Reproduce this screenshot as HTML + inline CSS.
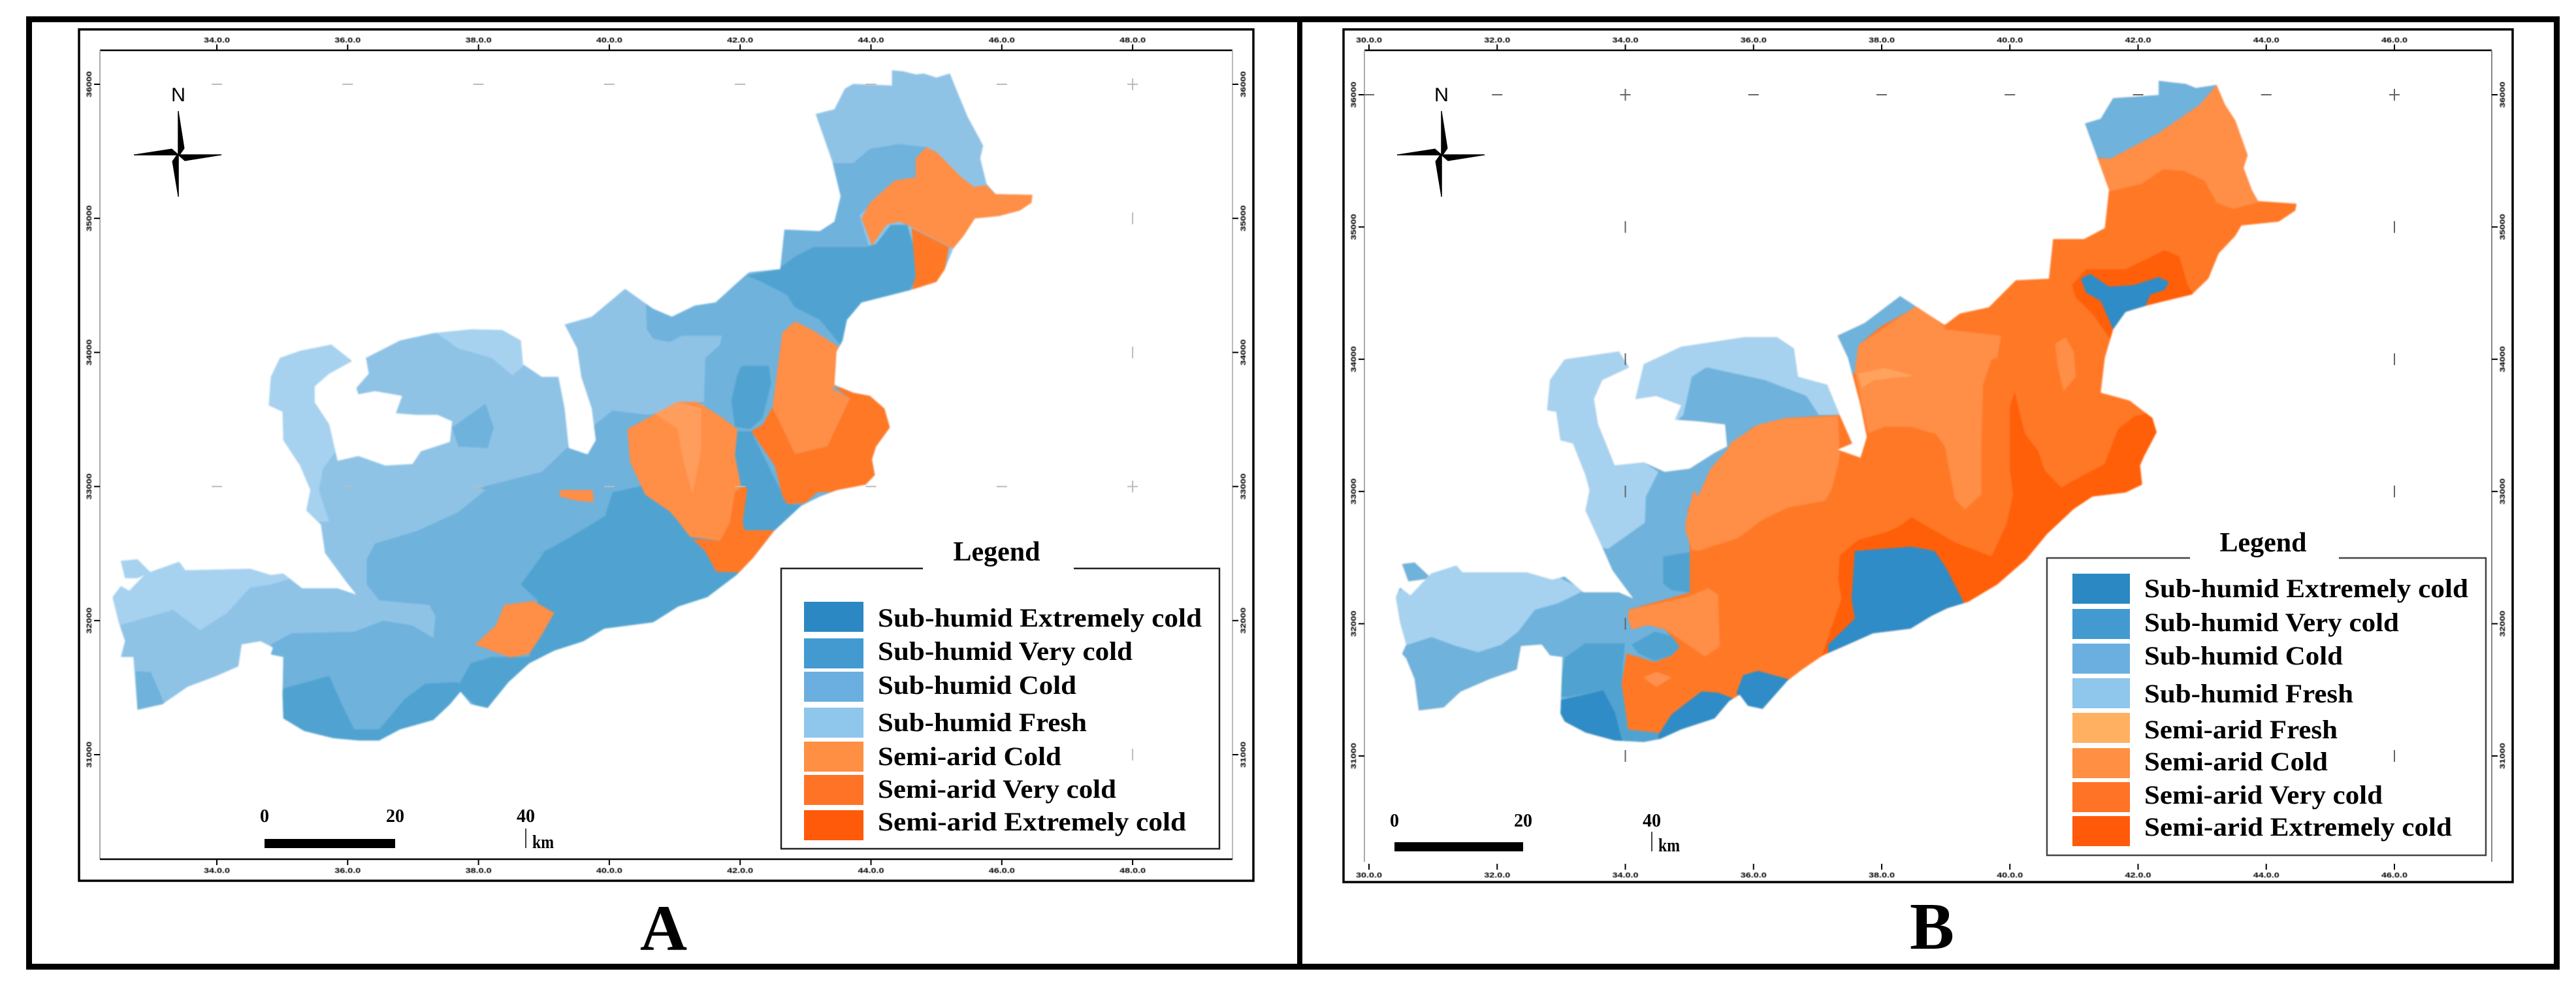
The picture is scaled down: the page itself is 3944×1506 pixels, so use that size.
<!DOCTYPE html>
<html lang="en">
<head>
<meta charset="utf-8">
<title>Climate classification maps A and B</title>
<style>
html,body{margin:0;padding:0;background:#fff}
svg{display:block}
text{font-family:"Liberation Serif",serif;fill:#000}
.tick{font-family:"Liberation Sans",sans-serif;font-weight:bold;font-size:11px;filter:blur(.6px)}
</style>
</head>
<body>
<svg id="fig" xmlns="http://www.w3.org/2000/svg" width="3944" height="1506" viewBox="0 0 3944 1506">
<rect width="3944" height="1506" fill="#fff"/>
<rect x="44.5" y="29.5" width="3870" height="1450" fill="none" stroke="#000" stroke-width="9"/>
<rect x="1986" y="29" width="8" height="1450" fill="#000"/>
<defs id="defs"></defs>
</svg>
<script>
// Tick labels and legend entries
const xTickLabelsA = ['34.0.0','36.0.0','38.0.0','40.0.0','42.0.0','44.0.0','46.0.0','48.0.0'];
const xTickLabelsB = ['30.0.0','32.0.0','34.0.0','36.0.0','38.0.0','40.0.0','42.0.0','44.0.0','46.0.0'];
const yTickLabelsA = ['36000','35000','34000','33000','32000','31000'];
const yTickLabelsB = ['36000','35000','34000','33000','32000','31000'];
const legendLabelsA = ['Sub-humid Extremely cold','Sub-humid Very cold','Sub-humid Cold','Sub-humid Fresh','Semi-arid Cold','Semi-arid Very cold','Semi-arid Extremely cold'];
const legendColorsA = ['#2b88c2','#429ad0','#6bafe0','#8fc6ec','#ff8f42','#ff7326','#ff5a0a'];
const legendLabelsB = ['Sub-humid Extremely cold','Sub-humid Very cold','Sub-humid Cold','Sub-humid Fresh','Semi-arid Fresh','Semi-arid Cold','Semi-arid Very cold','Semi-arid Extremely cold'];
const legendColorsB = ['#2b88c2','#429ad0','#6bafe0','#8fc6ec','#ffb060','#ff8f42','#ff7326','#ff5a0a'];
const scaleLabels = ['0','20','40'];

// Crop frames used to read the outlines
const frames = {
  a:[0,0,.638,.4847], b:[1000,0,.638,.4847], c:[0,750,.638,.482], d:[1000,750,.638,.482],
  e:[2000,0,.638,.4847], f:[2950,0,.634,.4847], g:[2000,750,.638,.482], h:[2950,750,.634,.482],
  i:[2600,550,.5102,.3333], j:[2100,800,.5102,.3333], k:[800,500,.3827,.3333]
};
function pts(s){
  let fr = frames.a, out = [];
  s.trim().split(/\s+/).forEach(tok => {
    if (frames[tok]) { fr = frames[tok]; return; }
    const [zx,zy] = tok.split(',').map(Number);
    out.push((fr[0]+zx*fr[2]).toFixed(1)+','+(fr[1]+zy*fr[3]).toFixed(1));
  });
  return out.join(' ');
}

const NS = 'http://www.w3.org/2000/svg';
const svg = document.getElementById('fig');
const defs = document.getElementById('defs');
function mk(tag, attrs, parent, txt){
  const el = document.createElementNS(NS, tag);
  for (const k in attrs) el.setAttribute(k, attrs[k]);
  if (txt !== undefined) el.textContent = txt;
  (parent||svg).appendChild(el);
  return el;
}

const C = {f:'#a6d2f0',c1:'#8fc3e6',c2:'#6fb2dc',c3:'#50a3d0',c4:'#2f8cc6',of:'#ffa35c',o1:'#ff8e46',o2:'#ff7826',o3:'#ff5f08'};

const outlineA = [
 'b 573,222 600,225 630,235 650,232 680,245 712,232 730,290 755,370 780,430 792,460 785,500 800,580 822,613 910,615 908,640 880,665 830,682 772,690 745,745 720,785 700,850 680,890 620,915 560,935 500,955 465,1010 455,1075 440,1110 435,1215 480,1240 520,1250 555,1290 568,1350 535,1410 525,1450 532,1500 510,1530 440,1548 400,1568 d 355,50 290,130 240,215 200,270 130,340 60,370 0,420 c 1450,440 1400,480 1330,510 1270,550 1220,610 1170,692 1130,680 1105,640 1080,680 1040,730 960,760 910,795 860,795 800,788 730,765 680,725 678,650 680,530 650,522 655,500 625,480 580,490 572,560 520,590 450,625 390,680 330,698 320,530 290,530 300,480 285,420 270,340 290,305 310,320 350,265 430,228 445,255 600,250 650,270 680,265 725,312 810,312 855,332 830,290 780,200 770,110 735,65 745,0 a 720,1470 680,1390 678,1300 645,1280 650,1190 672,1130 720,1108 795,1088 845,1140 790,1180 755,1220 755,1270 790,1340 810,1455 860,1440 925,1470 990,1465 1010,1425 1080,1395 1085,1330 1050,1310 1000,1310 950,1305 965,1250 900,1235 860,1245 855,1225 885,1180 878,1130 960,1075 1040,1052 1130,1040 1205,1042 1250,1075 1255,1150 1300,1190 1340,1190 1355,1290 1365,1415 1410,1435 1430,1390 1420,1290 1395,1190 1385,1100 1355,1025 1420,1000 1500,912 b 0,975 45,1000 100,965 150,955 200,895 230,860 305,850 315,725 400,730 435,700 450,620 430,510 390,360 435,345 460,280 480,265 573,270',
 'c 290,225 330,220 360,260 330,280 300,280'
];
const regionsA = [
 ['west-arc-fresh',C.f,'a 600,1250 640,1100 800,1060 860,1140 790,1200 790,1340 808,1420 775,1480 765,1547 c 765,0 790,100 700,100 a 650,1547'],
 ['crescent-fresh',C.f,'a 1040,1045 1100,1100 1180,1130 1230,1185 1270,1140 1260,1030'],
 ['west-tip-fresh',C.f,'c 240,434 285,430 415,380 480,445 545,390 600,310 650,300 700,280 650,230 400,200 250,210'],
 ['crescent-cold',C.c2,'a 1165,1275 1185,1350 1170,1415 1100,1410 1085,1350'],
 ['central-cold',C.c2,'a 1550,950 1552,1040 1568,1070 b 40,1080 70,1060 165,1060 160,1090 125,1130 122,1270 90,1268 k 730,360 500,405 360,385 300,440 a 1360,1415 1300,1490 1150,1540 c 1165,0 1100,70 1000,130 900,170 880,220 880,300 910,350 1030,365 1045,400 1040,470 990,430 920,415 850,450 700,455 650,490 650,525 640,900 c 1568,900 d 600,600 600,0 b 600,1500 520,900 300,830 225,865 100,950'],
 ['sw-tip-cold',C.c2,'c 325,575 362,578 395,680 330,705'],
 ['ne-cold',C.c2,'b 430,515 480,515 520,470 590,455 660,465 630,500 630,560 580,570 495,680 520,790 420,790 370,810 305,850 300,700 400,720 450,620'],
 ['ne-very-cold',C.c3,'b 225,870 300,850 340,810 385,780 510,780 535,770 570,710 610,710 630,800 630,880 615,925 500,960 465,1010 450,1090 400,1010 340,970 320,930 260,890'],
 ['central-patch-very-cold',C.c3,'k 875,180 985,180 995,260 960,420 910,470 850,460 835,340 860,220'],
 ['south-very-cold',C.c3,'c 1250,300 1310,190 k 60,1050 200,960 330,870 360,760 465,735 860,480 915,480 1060,815 1300,820 1500,820 d 600,100 300,400 c 1568,600 1170,720 1105,640 1100,620 1130,550 1180,530 1270,530 1290,350'],
 ['sw-very-cold',C.c3,'c 680,630 790,590 820,680 850,760 910,760 970,665 1020,615 1100,610 1105,640 1080,700 1040,750 960,800 800,820 700,800 660,725'],
 ['ne-semi-cold',C.o1,'b 630,500 655,465 680,480 740,560 770,590 800,585 822,613 920,610 915,645 880,670 830,690 772,695 745,745 720,785 610,710 590,700 560,710 525,775 500,690 520,640 580,570 630,560'],
 ['ne-semi-very-cold',C.o2,'b 620,720 710,780 700,850 680,895 620,920 630,870'],
 ['east-semi-very-cold',C.o2,'k 1000,370 1090,585 1220,550 1310,330 1250,280 1340,280 1440,300 1510,460 1440,600 1450,680 1390,760 1180,760 1130,810 1060,815 1040,780 1010,640 915,480 960,450'],
 ['east-semi-cold',C.o1,'b 310,1050 340,1015 380,1040 445,1095 440,1215 k 1240,285 1310,330 1220,550 1090,585 1000,370'],
 ['central-semi-cold',C.o1,'k 420,470 500,420 620,345 700,345 790,410 860,470 850,590 875,740 850,760 830,900 790,985 670,965 620,890 590,850 490,770 430,620'],
 ['central-semi-very-cold',C.o2,'k 880,735 900,740 880,900 890,935 1020,935 900,1130 775,1125 730,1030 680,975 790,985 830,900 850,760'],
 ['central-semi-light','#ff9d5c','k 530,400 620,345 715,375 715,570 680,770 640,600 620,470'],
 ['small-semi-cold-north',C.o1,'k 150,750 280,750 285,805 220,800 150,780'],
 ['small-semi-cold-south',C.o1,'c 1210,365 1280,352 1330,390 1300,460 1270,520 1225,532 1140,490 1190,430']
];

const outlineB = [
 'f 560,255 590,260 625,265 650,278 700,268 720,330 745,380 775,490 765,530 785,600 800,635 893,643 890,665 850,700 760,712 745,745 705,800 680,880 640,930 530,965 480,985 450,1040 430,1130 420,1240 490,1265 545,1320 555,1365 525,1440 515,1470 520,1530 480,1555 400,1568 h 355,60 290,140 240,220 170,300 100,355 50,375 g 1500,400 1450,440 1360,455 1300,490 1240,525 1190,570 1155,605 1095,695 1060,685 1040,650 1015,670 980,725 900,760 850,790 810,800 740,795 670,770 620,735 610,710 615,530 585,525 565,490 515,495 505,570 440,600 370,640 330,690 270,700 260,600 240,535 230,520 240,490 225,420 215,340 225,310 250,335 300,265 360,240 375,262 530,262 590,285 620,275 665,325 750,325 785,345 735,255 715,195 670,65 680,0 e 670,1500 640,1400 610,1390 600,1300 578,1295 585,1200 620,1135 750,1110 775,1160 710,1200 690,1260 700,1340 740,1470 810,1460 860,1490 920,1480 980,1430 1010,1410 1005,1340 940,1330 885,1325 900,1280 840,1250 790,1260 810,1150 900,1095 1050,1065 1130,1065 1170,1100 1180,1190 1250,1215 1280,1310 1310,1400 1275,1420 1330,1445 1345,1380 1330,1280 1300,1130 1275,1060 1340,1020 1425,935 1460,965 1530,1025 f 45,1025 80,990 150,970 215,885 295,880 305,755 380,755 430,720 440,600 410,490 382,390 420,375 450,310 510,305 560,300',
 'g 230,235 260,230 300,280 245,290'
];
const regionsB = [
 ['west-cold',C.c2,'e 500,1000 1270,1000 1285,1310 1150,1320 1070,1350 1010,1420 970,1480 940,1568 g 915,60 j 955,130 955,320 770,400 770,440 780,490 830,470 880,490 925,570 900,610 850,640 765,600 750,740 770,950 860,965 860,1100 0,1100 g 0,0'],
 ['west-arc-fresh',C.f,'e 540,1300 560,1100 750,1090 790,1160 740,1200 700,1340 740,1470 810,1460 845,1490 815,1568 j 820,0 710,120 640,100 g 600,0 e 600,1568'],
 ['crescent-fresh',C.f,'e 790,1280 790,1130 900,1070 1150,1040 1280,1200 1285,1310 1230,1310 1200,1250 1100,1200 960,1160 925,1190 905,1310 880,1340'],
 ['west-tip-fresh',C.f,'j 50,350 95,300 120,320 190,215 260,185 275,225 480,220 560,250 640,310 560,370 490,400 440,500 390,560 320,595 250,565 180,525 100,565 70,480'],
 ['sw-very-cold',C.c3,'j 560,800 580,620 640,555 760,555 755,640 750,740 695,770 590,800'],
 ['sw-strip-very-cold',C.c3,'j 695,770 750,740 770,950 860,965 860,1020 750,1020 730,870'],
 ['mid-very-cold',C.c3,'j 875,155 955,135 955,320 900,310 875,280'],
 ['bump-very-cold',C.c3,'j 780,560 850,500 900,520 925,570 900,610 850,635 800,600'],
 ['north-tip-cold',C.c2,'e 1270,1060 1340,1010 1425,925 1470,965 1380,1030 1325,1090 1320,1180 1290,1180'],
 ['north-cap-cold',C.c2,'f 370,395 420,365 450,300 510,295 550,240 710,260 660,330 560,420 445,505 405,495'],
 ['north-semi-cold',C.o1,'f 410,500 445,500 560,420 660,330 700,268 720,330 745,380 790,490 775,530 795,600 810,635 740,660 700,640 670,570 620,540 570,535 520,580 440,605'],
 ['central-semi-cold',C.o1,'e 1325,1090 1465,965 1530,1030 f 45,1040 180,1060 170,1130 i 880,0 855,120 850,400 850,620 800,690 770,640 740,400 715,345 640,310 560,310 510,340 490,200 470,50'],
 ['west-semi-cold',C.o1,'e 940,1568 970,1480 1010,1420 i 100,380 180,300 260,270 420,260 425,440 420,480 400,600 380,650 270,680 190,740 120,820 0,880 g 925,190 910,130 910,100 930,0'],
 ['small-semi-cold',C.o1,'j 770,400 950,340 1010,300 1040,330 1045,570 1000,615 930,540 880,490 830,470 780,490 770,440'],
 ['small-semi-cold-south','#ff9150','j 815,710 855,685 900,710 855,755'],
 ['semi-fresh-patch',C.of,'i 480,65 560,40 650,75 530,95 490,130'],
 ['east-semi-cold-sliver',C.o1,'f 310,1085 335,1065 355,1110 360,1190 330,1235 315,1150'],
 ['ne-semi-extreme',C.o3,'f 350,900 385,850 480,850 575,790 610,810 630,900 650,940 530,985 450,1085 400,990 360,940'],
 ['east-semi-extreme',C.o3,'i 950,150 935,220 935,500 945,620 925,760 880,905 770,840 640,725 600,770 570,790 480,830 425,900 420,1010 430,1100 385,1300 370,1365 350,1400 600,1600 1600,1000 1600,200 1370,200 1340,250 1310,260 1260,320 1240,400 1220,480 1110,570 1090,590 1040,510 1020,420 980,340'],
 ['ne-extreme-cold',C.c4,'f 372,880 395,865 440,905 500,900 560,875 585,890 575,915 540,930 525,975 480,995 450,1040 420,950 385,925'],
 ['south-extreme-cold',C.c4,'i 470,880 640,860 710,880 745,960 795,1110 800,1140 650,1260 530,1270 480,1330 390,1370 390,1310 470,1190 460,1100'],
 ['sw-extreme-cold',C.c4,'j 550,820 695,770 730,870 755,1020 640,1000 550,900'],
 ['south-mid-extreme-cold',C.c4,'j 860,975 900,880 990,775 1040,780 1090,810 1050,890 980,950 860,1020'],
 ['south-small-extreme-cold',C.c4,'j 1095,780 1115,700 1160,680 1255,720 1180,880 1120,860']
];

function drawMap(id, outline, regions){
  const clip = mk('clipPath',{id:'clip-'+id},defs);
  outline.forEach(o => mk('polygon',{points:pts(o)},clip));
  const wrap = mk('g',{style:'filter:blur(1px)'});
  
  
  const g = mk('g',{'clip-path':'url(#clip-'+id+')'},wrap);
  
  
  const base = mk('rect',{x:0,y:0,width:3944,height:1506,fill:id==='a'?C.c1:C.o2},g);
  
  
  regions.forEach(r => {
    const p = mk('polygon',{points:pts(r[2]),fill:r[1]},g);
    
    
  });
}

function drawAxes(cfg){
  const xPos = i => cfg.x0 + i*cfg.dx;
  const yPos = i => cfg.y0 + i*cfg.dy;
  const frame = mk('rect',{x:cfg.fx,y:cfg.fy,width:cfg.fw,height:cfg.fh,fill:'none',stroke:'#000','stroke-width':3.5});
  
  
  [[cfg.nl,77,cfg.nr,77,'#000',2.5],[cfg.nl,77,cfg.nl,cfg.nb,'#aaa',2],[cfg.nr,77,cfg.nr,cfg.nb,cfg.id==='a'?'#bbb':'#888',2]].forEach(l=>{
    const ln = mk('line',{x1:l[0],y1:l[1],x2:l[2],y2:l[3],stroke:l[4],'stroke-width':l[5]});
    
    
  });
  if (cfg.id==='a'){
    const ln = mk('line',{x1:cfg.nl,y1:cfg.nb,x2:cfg.nr,y2:cfg.nb,stroke:'#000','stroke-width':2.5});
    
    
  }
  cfg.xl.forEach((lab,i)=>{
    const x = xPos(i);
    const t1 = mk('line',{x1:x,y1:68,x2:x,y2:77,stroke:'#000','stroke-width':2});
    
    
    const t2 = mk('line',{x1:x,y1:cfg.tb0,x2:x,y2:cfg.tb0+9,stroke:'#000','stroke-width':2});
    
    
    const a = mk('text',{x:x,y:65,'text-anchor':'middle',class:'tick',textLength:40,lengthAdjust:'spacingAndGlyphs'},svg,lab);
    
    
    const b = mk('text',{x:x,y:cfg.lb,'text-anchor':'middle',class:'tick',textLength:40,lengthAdjust:'spacingAndGlyphs'},svg,lab);
    
    
  });
  cfg.yl.forEach((lab,i)=>{
    const y = yPos(i);
    const t1 = mk('line',{x1:cfg.nl-9,y1:y,x2:cfg.nl,y2:y,stroke:'#000','stroke-width':2});
    
    
    const t2 = mk('line',{x1:cfg.nr,y1:y,x2:cfg.nr+9,y2:y,stroke:'#000','stroke-width':2});
    
    
    const a = mk('text',{transform:'translate('+(cfg.nl-13)+','+y+') rotate(-90)','text-anchor':'middle',class:'tick',textLength:40,lengthAdjust:'spacingAndGlyphs'},svg,lab);
    
    
    const b = mk('text',{transform:'translate('+(cfg.nr+20)+','+y+') rotate(-90)','text-anchor':'middle',class:'tick',textLength:40,lengthAdjust:'spacingAndGlyphs'},svg,lab);
    
    
  });
  // graticule marks
  cfg.xl.forEach((_,i)=>{
    const x = xPos(i), last = i===cfg.xl.length-1;
    cfg.dashRows.forEach(r=>{
      const y = yPos(r);
      const d = mk('line',{x1:x-8,y1:y,x2:x+8,y2:y,stroke:cfg.grid,'stroke-width':2});
      
      
    });
    if (last || i===cfg.crossCol){
      cfg.yl.forEach((_,r)=>{
        if (last && r===4) return;
        const y = yPos(r);
        const v = mk('line',{x1:x,y1:y-9,x2:x,y2:y+9,stroke:cfg.grid,'stroke-width':2});
        
        
      });
    }
  });
}

function drawCompass(cx,cy,id){
  const g = mk('g',{transform:'translate('+cx+','+cy+')'});
  
  
  const n = mk('text',{x:0,y:-82,'text-anchor':'middle','font-size':30,textLength:22,lengthAdjust:'spacingAndGlyphs',style:'font-family:"Liberation Sans",sans-serif'},g,'N');
  
  
  ['0,-67 9,-10 2,0 0,0','66,0 10,9 2,2 0,0','0,64 -9,10 -2,0 0,0','-68,0 -10,-9 -2,-2 0,0'].forEach(p=>{
    const a = mk('polygon',{points:p,fill:'#000',stroke:'#000','stroke-width':1},g);
    
    
  });
  [[0,-67,0,0],[0,0,66,0],[0,0,0,64],[-68,0,0,0]].forEach(l=>{
    const a = mk('line',{x1:l[0],y1:l[1],x2:l[2],y2:l[3],stroke:'#000','stroke-width':1.5},g);
    
    
  });
}

function drawScale(x0,x1,yb,hb,yt,id){
  const bar = mk('rect',{x:x0,y:yb,width:x1-x0,height:hb,fill:'#000'});
  
  
  const step = x1-x0;
  scaleLabels.forEach((l,i)=>{
    const t = mk('text',{x:x0+i*step,y:yt,'text-anchor':'middle','font-size':28,'font-weight':'bold'},svg,l);
    
    
  });
  const kx = x0+2*step;
  const ln = mk('line',{x1:kx,y1:yb-16,x2:kx,y2:yb+hb,stroke:'#444','stroke-width':2});
  
  
  const k = mk('text',{x:kx+10,y:yb+hb,'font-size':28,'font-weight':'bold',textLength:33,lengthAdjust:'spacingAndGlyphs'},svg,'km');
  
  
}

function drawLegend(c){
  const box = mk('path',{d:'M'+c.gap0+' '+c.y0+'H'+c.x0+'V'+c.y1+'H'+c.x1+'V'+c.y0+'H'+c.gap1,fill:'none',stroke:c.stroke,'stroke-width':2.5});
  
  
  const t = mk('text',{x:c.tx,y:c.ty,'text-anchor':'middle','font-size':42,'font-weight':'bold'},svg,'Legend');
  
  
  c.labels.forEach((l,i)=>{
    const s = mk('rect',{x:c.sx,y:c.sy[i],width:c.sw,height:c.sh,fill:c.colors[i]});
    
    
    const x = mk('text',{x:c.lx,y:c.base[i],'font-size':40,'font-weight':'bold',textLength:c.widths[i],lengthAdjust:'spacingAndGlyphs'},svg,l);
    
    
  });
}

drawMap('a',outlineA,regionsA);
drawMap('b',outlineB,regionsB);

drawAxes({id:'a',x0:332,dx:200.3,y0:129,dy:205.2,xl:xTickLabelsA,yl:yTickLabelsA,fx:121,fy:45,fw:1798,fh:1303,nl:153,nr:1887,nb:1315,tb0:1315,lb:1336,grid:'#bbb',crossCol:-1,dashRows:[0,3]});
drawAxes({id:'b',x0:2096,dx:196.25,y0:145,dy:202.4,xl:xTickLabelsB,yl:yTickLabelsB,fx:2057,fy:45,fw:1790,fh:1305,nl:2089,nr:3815,nb:1319,tb0:1322,lb:1343,grid:'#666',crossCol:2,dashRows:[0]});

drawCompass(273,237,'a');
drawCompass(2207,237,'b');
drawScale(405,605,1284,14,1258,'a');
drawScale(2135,2332,1289,14,1265,'b');

drawLegend({x0:1196,x1:1867,y0:870,y1:1299,gap0:1413,gap1:1644,stroke:'#222',tx:1526,ty:858,sx:1231,sw:91,sh:46,
  sy:[921,977,1028,1083,1135,1186,1240],lx:1344,base:[959,1010,1062,1119,1171,1221,1271],
  widths:[496,390,304,320,281,365,472],labels:legendLabelsA,colors:legendColorsA});
drawLegend({x0:3134,x1:3806,y0:854,y1:1309,gap0:3353,gap1:3581,stroke:'#444',tx:3465,ty:844,sx:3173,sw:88,sh:46,
  sy:[878,932,985,1038,1091,1145,1197,1249],lx:3283,base:[914,966,1017,1075,1130,1179,1230,1279],
  widths:[496,390,304,320,296,281,365,471],labels:legendLabelsB,colors:legendColorsB});

const pa = mk('text',{x:1016,y:1454,'text-anchor':'middle','font-size':100,'font-weight':'bold'},svg,'A');


const pb = mk('text',{x:2958,y:1452,'text-anchor':'middle','font-size':102,'font-weight':'bold'},svg,'B');


</script>
</body>
</html>
